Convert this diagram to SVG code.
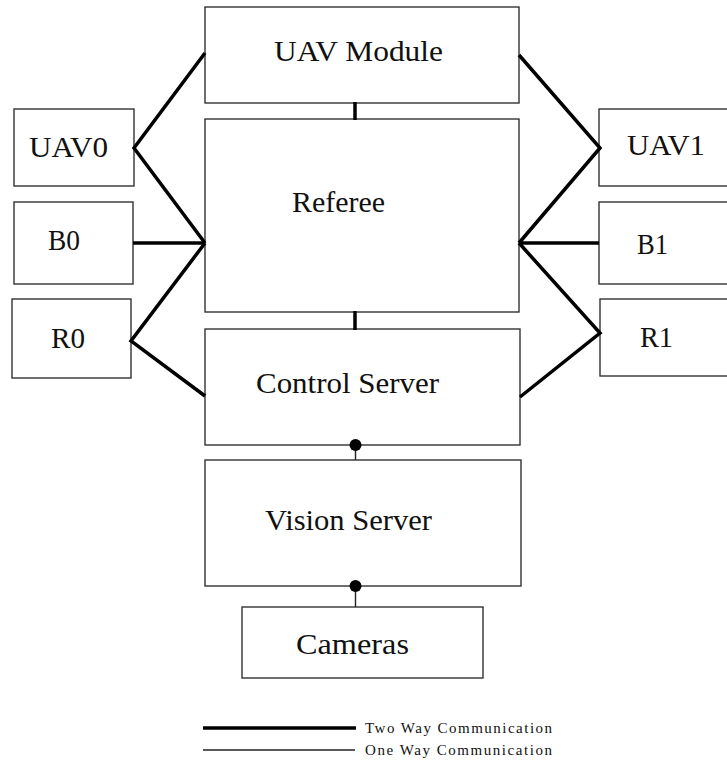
<svg xmlns="http://www.w3.org/2000/svg" width="727" height="763" viewBox="0 0 727 763">
<style>
.box{fill:#fff;stroke:#333;stroke-width:1.4}
.lbl{font-family:"Liberation Serif","Times New Roman",serif;font-size:30px;fill:#111}
.leg{font-family:"Liberation Serif","Times New Roman",serif;font-size:15px;fill:#111}
.two{stroke:#000;stroke-width:3.5;fill:none;stroke-linejoin:miter}
.one{stroke:#222;stroke-width:1.4;fill:none}
.dot{fill:#000}
</style>
<rect width="727" height="763" fill="#fff"/>
<g id="uav-module"><rect class="box" x="205" y="7" width="314" height="96"/><text class="lbl" x="274" y="61" textLength="169" lengthAdjust="spacingAndGlyphs">UAV Module</text></g>
<g id="referee"><rect class="box" x="205" y="119" width="314" height="193"/><text class="lbl" x="292" y="212" textLength="93" lengthAdjust="spacingAndGlyphs">Referee</text></g>
<g id="control-server"><rect class="box" x="205" y="329" width="315" height="116"/><text class="lbl" x="256" y="393" textLength="183" lengthAdjust="spacingAndGlyphs">Control Server</text></g>
<g id="vision-server"><rect class="box" x="205" y="460" width="316" height="126"/><text class="lbl" x="265" y="530" textLength="167" lengthAdjust="spacingAndGlyphs">Vision Server</text></g>
<g id="cameras"><rect class="box" x="242" y="607" width="241" height="71"/><text class="lbl" x="296" y="654" textLength="113" lengthAdjust="spacingAndGlyphs">Cameras</text></g>
<g id="uav0"><rect class="box" x="14" y="109" width="120" height="77"/><text class="lbl" x="29" y="157" textLength="79" lengthAdjust="spacingAndGlyphs">UAV0</text></g>
<g id="b0"><rect class="box" x="14" y="202" width="119" height="82"/><text class="lbl" x="48" y="250" textLength="32" lengthAdjust="spacingAndGlyphs">B0</text></g>
<g id="r0"><rect class="box" x="12" y="299" width="119" height="79"/><text class="lbl" x="51" y="348" textLength="34" lengthAdjust="spacingAndGlyphs">R0</text></g>
<g id="uav1"><rect class="box" x="599" y="109" width="140" height="77"/><text class="lbl" x="627" y="155" textLength="78" lengthAdjust="spacingAndGlyphs">UAV1</text></g>
<g id="b1"><rect class="box" x="599" y="202" width="140" height="82"/><text class="lbl" x="637" y="254" textLength="31" lengthAdjust="spacingAndGlyphs">B1</text></g>
<g id="r1"><rect class="box" x="600" y="299" width="140" height="77"/><text class="lbl" x="640" y="347" textLength="33" lengthAdjust="spacingAndGlyphs">R1</text></g>
<g id="connectors">
<polyline class="two" points="205,53 134,148 205,243"/>
<line class="two" x1="133" y1="243" x2="205" y2="243"/>
<polyline class="two" points="205,243 131,341 205,396"/>
<polyline class="two" points="519,55 600,148 519,243"/>
<line class="two" x1="519" y1="243" x2="599" y2="243"/>
<polyline class="two" points="519,243 600,333 520,397"/>
<line class="two" x1="355" y1="102" x2="355" y2="120"/>
<line class="two" x1="355" y1="311" x2="355" y2="330"/>
<line class="one" x1="355.5" y1="445" x2="355.5" y2="460"/>
<circle class="dot" cx="355.5" cy="445" r="6"/>
<line class="one" x1="355.5" y1="586" x2="355.5" y2="607"/>
<circle class="dot" cx="355.5" cy="586" r="6"/>
</g>
<g id="legend">
<line class="two" x1="203" y1="728" x2="356" y2="728"/>
<line class="one" x1="203" y1="750" x2="355" y2="750"/>
<text class="leg" x="365" y="733" textLength="187">Two Way Communication</text>
<text class="leg" x="365" y="755" textLength="187">One Way Communication</text>
</g>
</svg>
